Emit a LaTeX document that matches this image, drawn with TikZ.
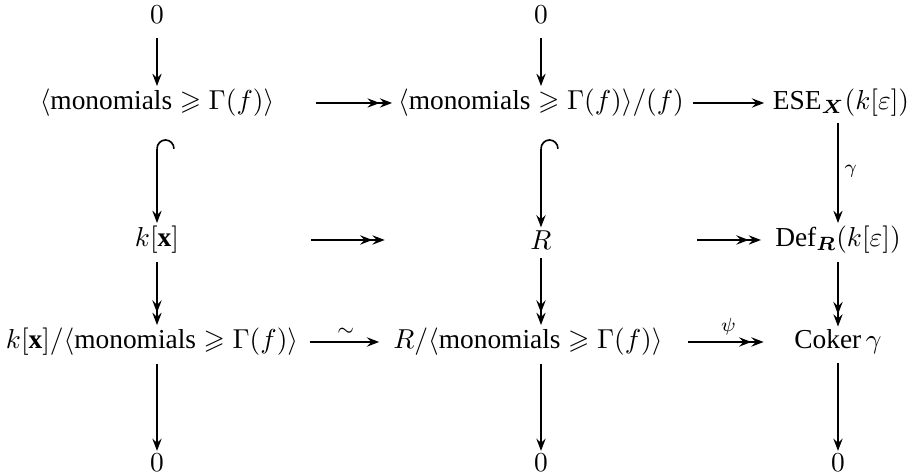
\documentclass[tikz,border=0pt]{standalone}
\usepackage{amsmath,amssymb,bm}
\usepackage{fontspec}
\setmainfont{Liberation Serif}
\usetikzlibrary{arrows.meta, positioning}

\newcommand{\mons}{\langle\text{monomials}\geqslant\Gamma(f)\rangle}

\begin{document}
\begin{tikzpicture}[
    x=0.365pt, y=-0.365pt,
    obj/.style={inner sep=1pt},
    arrow/.style={-{Stealth[length=4.5pt, width=3.4pt, inset=1.6pt]}, line width=0.6pt},
    onto/.style={-{Stealth[length=4.5pt, width=3.4pt, inset=1.6pt] Stealth[length=4.5pt, width=3.4pt, inset=1.6pt]}, line width=0.6pt},
    incl/.style={{Hooks[right, arc=180, length=3.5pt, width=13pt]}-{Stealth[length=4.5pt, width=3.4pt, inset=1.6pt]}, line width=0.6pt},
    lab/.style={font=\scriptsize, inner sep=2pt}
]
\useasboundingbox (0,0) rectangle (913,476);

% first column
\node[obj] (z1) at (157,15) {$0$};
\node[obj] (A) at (157,103) {$\mons$};
\node[obj] (kx) at (157,240) {$k[\mathbf{x}]$};
\node[obj] (q1) at (152,342) {$k[\mathbf{x}]/\mons$};
\node[obj] (o1) at (157,463) {$0$};

% second column
\node[obj] (z2) at (541,15) {$0$};
\node[obj] (B) at (541,103) {$\mons/(f)$};
\node[obj] (R) at (541,240) {$R$};
\node[obj] (q2) at (528,342) {$R/\mons$};
\node[obj] (o2) at (541,463) {$0$};

% third column
\node[obj] (ese) at (841,103) {$\mathrm{ESE}_{\bm{X}}(k[\varepsilon])$};
\node[obj] (def) at (838,240) {$\mathrm{Def}_{\bm{R}}(k[\varepsilon])$};
\node[obj] (cok) at (838,342) {$\operatorname{Coker}\gamma$};
\node[obj] (o3) at (838,463) {$0$};

% vertical maps
\draw[arrow, shorten <=4pt] (z1) -- (A);
\draw[incl, shorten <=7pt] (A) -- (kx);
\draw[onto, shorten <=2pt] (kx) -- (kx |- q1.north);
\draw[arrow, shorten <=2pt] (kx |- q1.south) -- (o1);
\draw[arrow, shorten <=4pt] (z2) -- (B);
\draw[incl, shorten <=7pt] (B) -- (R);
\draw[onto, shorten <=2pt] (R) -- (R |- q2.north);
\draw[arrow, shorten <=2pt] (R |- q2.south) -- (o2);
\draw[arrow, shorten <=1pt] (ese.south -| def) -- (def) node[midway, right, lab] {$\gamma$};
\draw[onto, shorten <=2pt] (def) -- (cok);
\draw[arrow, shorten <=2pt] (cok) -- (o3);

% horizontal maps
\draw[onto, shorten <=14pt, shorten >=1pt] (A) -- (B);
\draw[arrow, shorten <=2pt, shorten >=2pt] (B) -- (ese);
\draw[onto, shorten <=47pt, shorten >=52pt] (kx) -- (R);
\draw[onto, shorten <=52pt, shorten >=4pt] (R) -- (def);
\draw[arrow, shorten <=3pt, shorten >=4pt] (q1) -- (q2) node[midway, above, lab] {$\sim$};
\draw[onto, shorten <=8pt, shorten >=10pt] (q2) -- (cok) node[midway, above, lab] {$\psi$};

\end{tikzpicture}
\end{document}
